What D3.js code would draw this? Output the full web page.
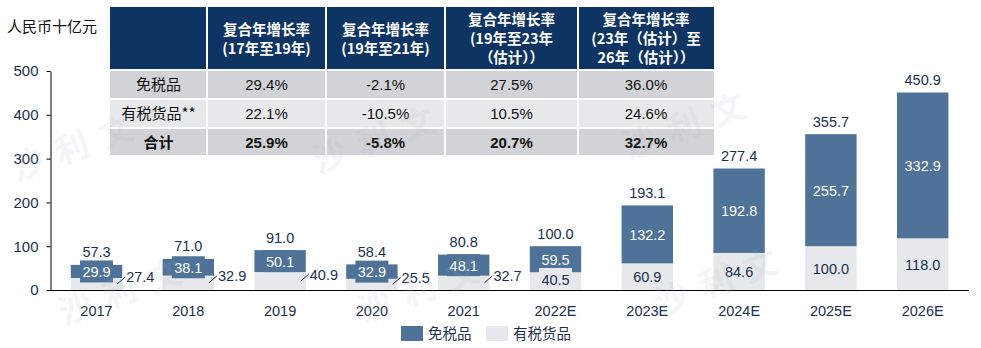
<!DOCTYPE html>
<html>
<head>
<meta charset="utf-8">
<script src="https://cdn.jsdelivr.net/npm/d3@7"></script>
<style>
  body { margin: 0; background: #fff; }
  svg { display: block; }
</style>
</head>
<body>
<svg id="chart" width="981" height="348"></svg>
<script>
// Market size by year, RMB billion
const years = ["2017", "2018", "2019", "2020", "2021", "2022E", "2023E", "2024E", "2025E", "2026E"];
const dutyFree = [29.9, 38.1, 50.1, 32.9, 48.1, 59.5, 132.2, 192.8, 255.7, 332.9];
const taxPaid = [27.4, 32.9, 40.9, 25.5, 32.7, 40.5, 60.9, 84.6, 100.0, 118.0];
const yTicks = [0, 100, 200, 300, 400, 500];
const seriesNames = ["免税品", "有税货品"];
const yTitle = "人民币十亿元";

// CAGR table
const cagrHeaders = [
  ["复合年增长率", "(17年至19年)"],
  ["复合年增长率", "(19年至21年)"],
  ["复合年增长率", "(19年至23年", "（估计））"],
  ["复合年增长率", "(23年（估计）至", "26年（估计））"]
];
const rowNames = ["免税品", "有税货品**", "合计"];
const cagrDutyFree = ["29.4%", "-2.1%", "27.5%", "36.0%"];
const cagrTaxPaid = ["22.1%", "-10.5%", "10.5%", "24.6%"];
const cagrTotal = ["25.9%", "-5.8%", "20.7%", "32.7%"];

const colors = { dutyFree: "#4f7298", taxPaid: "#e6e8eb", navy: "#0d3462", text: "#1b3050" };
const numFont = "'Liberation Sans', Arial, 'Noto Sans CJK SC', sans-serif";
const cjkFont = "'Noto Sans CJK SC', 'Liberation Sans', sans-serif";

const svg = d3.select("#chart");

const x = d3.scaleBand().domain(years).range([50.6, 968.6]).paddingInner(0.44).paddingOuter(0.22);
const y = d3.scaleLinear().domain([0, 500]).range([290, 71]);

const rows = years.map((yr, i) => ({
  year: yr,
  dutyFree: dutyFree[i],
  taxPaid: taxPaid[i],
  total: +(dutyFree[i] + taxPaid[i]).toFixed(1),
  estimate: yr.endsWith("E")
}));

// Watermark anchor points
const marks = [[78, 146], [380, 138], [690, 124], [126, 290], [425, 288], [722, 280]];

// Y axis title
svg.append("text").attr("x", 7).attr("y", 32)
  .attr("font-family", cjkFont).attr("font-size", 15).attr("fill", "#111")
  .text(yTitle);

// Bars
const g = svg.append("g");
const bars = g.selectAll("g.bar").data(rows).join("g").attr("class", "bar");

bars.append("rect")
  .attr("x", d => x(d.year)).attr("width", x.bandwidth())
  .attr("y", d => y(d.taxPaid)).attr("height", d => y(0) - y(d.taxPaid))
  .attr("fill", colors.taxPaid);

bars.append("rect")
  .attr("x", d => x(d.year)).attr("width", x.bandwidth())
  .attr("y", d => y(d.total)).attr("height", d => y(d.taxPaid) - y(d.total))
  .attr("fill", colors.dutyFree);

// Label boxes for duty-free segment values
const boxW = 33, boxH = 22;
bars.append("rect")
  .attr("x", d => x(d.year) + x.bandwidth() / 2 - boxW / 2).attr("width", boxW)
  .attr("y", d => (y(d.total) + y(d.taxPaid)) / 2 - boxH / 2).attr("height", boxH)
  .attr("fill", colors.dutyFree);

bars.append("text")
  .attr("x", d => x(d.year) + x.bandwidth() / 2)
  .attr("y", d => (y(d.total) + y(d.taxPaid)) / 2 + 5.5)
  .attr("text-anchor", "middle").attr("font-family", numFont).attr("font-size", 14.5)
  .attr("fill", "#fff").text(d => d.dutyFree.toFixed(1));

// Tax-paid labels: inside for estimates, outside with leader line for actuals
const inside = bars.filter(d => d.estimate);
inside.append("rect")
  .attr("x", d => x(d.year) + x.bandwidth() / 2 - boxW / 2).attr("width", boxW)
  .attr("y", d => Math.min((y(d.taxPaid) + y(0)) / 2 - boxH / 2, y(0) - boxH)).attr("height", boxH)
  .attr("fill", colors.taxPaid);
inside.append("text")
  .attr("x", d => x(d.year) + x.bandwidth() / 2)
  .attr("y", d => Math.min((y(d.taxPaid) + y(0)) / 2 + 5.5, y(0) - 5))
  .attr("text-anchor", "middle").attr("font-family", numFont).attr("font-size", 14.5)
  .attr("fill", colors.text).text(d => d.taxPaid.toFixed(1));

const outside = bars.filter(d => !d.estimate);
outside.append("line")
  .attr("x1", d => x(d.year) + x.bandwidth() - 5)
  .attr("y1", d => (y(d.taxPaid) + y(0)) / 2)
  .attr("x2", d => x(d.year) + x.bandwidth() + 3)
  .attr("y2", d => (y(d.taxPaid) + y(0)) / 2 - 7)
  .attr("stroke", colors.text).attr("stroke-width", 1);
outside.append("text")
  .attr("x", d => x(d.year) + x.bandwidth() + 4)
  .attr("y", d => (y(d.taxPaid) + y(0)) / 2 - 1.5)
  .attr("font-family", numFont).attr("font-size", 14.5)
  .attr("fill", colors.text).text(d => d.taxPaid.toFixed(1));

// Totals above bars
bars.append("text")
  .attr("x", d => x(d.year) + x.bandwidth() / 2)
  .attr("y", d => y(d.total) - 7.5)
  .attr("text-anchor", "middle").attr("font-family", numFont).attr("font-size", 14.5)
  .attr("fill", colors.text).text(d => d.total.toFixed(1));

// Category labels
svg.append("g").selectAll("text").data(years).join("text")
  .attr("x", d => x(d) + x.bandwidth() / 2).attr("y", 315.5)
  .attr("text-anchor", "middle").attr("font-family", numFont).attr("font-size", 14.5)
  .attr("fill", colors.text).text(d => d);

// Y axis
const yAxis = svg.append("g").attr("transform", "translate(50.5,0)")
  .call(d3.axisLeft(y).tickValues(yTicks).tickSize(4).tickSizeOuter(0).tickPadding(8));
yAxis.select(".domain").attr("stroke", "#000");
yAxis.selectAll(".tick line").attr("stroke", "#000");
yAxis.selectAll(".tick text").attr("font-family", numFont).attr("font-size", 15).attr("fill", colors.text);

// Baseline
svg.append("line").attr("x1", 50).attr("x2", 969).attr("y1", y(0) + 0.5).attr("y2", y(0) + 0.5)
  .attr("stroke", "#000").attr("stroke-width", 1.2);

// CAGR table
const colX = [110, 207, 326, 445, 578, 714];
const rowY = [7, 71, 100, 129, 157];
const gap = 2;
const table = svg.append("g");
const bodyFill = ["#d1d3d6", "#e7e8ea", "#d1d3d6"];
const bodyData = [cagrDutyFree, cagrTaxPaid, cagrTotal];

for (let c = 0; c < 5; c++) {
  table.append("rect")
    .attr("x", colX[c] + (c ? gap / 2 : 0)).attr("y", rowY[0])
    .attr("width", colX[c + 1] - colX[c] - (c ? gap / 2 : 0) - (c < 4 ? gap / 2 : 0))
    .attr("height", rowY[1] - rowY[0] - gap).attr("fill", colors.navy);
}
cagrHeaders.forEach((lines, i) => {
  const cx = (colX[i + 1] + colX[i + 2]) / 2;
  const cy = (rowY[0] + rowY[1] - gap) / 2;
  const lh = 19;
  const t = table.append("text")
    .attr("text-anchor", "middle").attr("font-family", cjkFont).attr("font-weight", "bold")
    .attr("font-size", 14.5).attr("fill", "#fff");
  lines.forEach((ln, j) => {
    t.append("tspan").attr("x", cx)
      .attr("y", cy + (j - (lines.length - 1) / 2) * lh + 6)
      .text(ln);
  });
});
rowNames.forEach((name, r) => {
  const y0 = rowY[r + 1], y1 = rowY[r + 2] - gap;
  const cells = [name].concat(bodyData[r]);
  cells.forEach((txt, c) => {
    table.append("rect")
      .attr("x", colX[c] + (c ? gap / 2 : 0)).attr("y", y0)
      .attr("width", colX[c + 1] - colX[c] - (c ? gap / 2 : 0) - (c < 4 ? gap / 2 : 0))
      .attr("height", y1 - y0).attr("fill", bodyFill[r]);
    table.append("text")
      .attr("x", (colX[c] + colX[c + 1]) / 2).attr("y", (y0 + y1) / 2 + 5.5)
      .attr("text-anchor", "middle")
      .attr("font-family", c === 0 ? cjkFont : numFont)
      .attr("font-weight", r === 2 ? "bold" : "normal")
      .attr("font-size", 15).attr("fill", "#111").text(txt);
  });
});

// Legend
const legend = svg.append("g");
const legendX = [401, 486];
seriesNames.forEach((name, i) => {
  legend.append("rect").attr("x", legendX[i]).attr("y", 326).attr("width", 22).attr("height", 15)
    .attr("fill", i === 0 ? colors.dutyFree : colors.taxPaid);
  legend.append("text").attr("x", legendX[i] + 27).attr("y", 339)
    .attr("font-family", cjkFont).attr("font-size", 14.5).attr("fill", colors.text).text(name);
});

// Watermark glyphs, semi-transparent over everything
marks.forEach(([mx, my]) => {
  svg.append("text")
    .attr("transform", `translate(${mx},${my}) rotate(-20)`)
    .attr("text-anchor", "middle").attr("dy", 12)
    .attr("font-family", cjkFont).attr("font-weight", "bold").attr("font-size", 34)
    .attr("letter-spacing", 13)
    .attr("fill", "#a9b0b8").attr("fill-opacity", 0.14)
    .attr("pointer-events", "none")
    .text("沙利文");
});
</script>
</body>
</html>
